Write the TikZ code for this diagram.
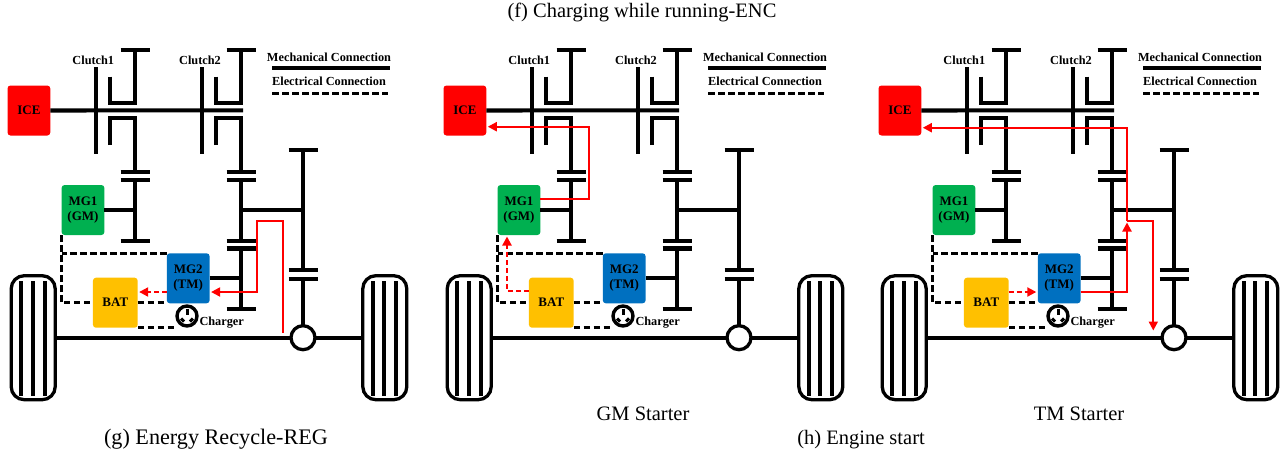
\documentclass[tikz,border=0pt]{standalone}
\usepackage{fontspec}
\setmainfont{Liberation Serif}
\usetikzlibrary{arrows.meta}

\tikzset{
    shaft/.style={line width=4.1pt},
    elec/.style={line width=3.1pt,dash pattern=on 6.5pt off 3.5pt},
    redline/.style={red,line width=2pt,-{Triangle[length=9pt,width=9pt]},shorten >=1.5pt},
    reddash/.style={redline,dash pattern=on 5pt off 3pt},
    unit/.style={rounded corners=3pt,minimum width=42.8pt,minimum height=50pt,inner sep=0pt,outer sep=0pt,
        align=center,font=\fontsize{13}{14.6}\selectfont\bfseries},
    tag/.style={inner sep=0pt,font=\fontsize{12.3}{14.6}\selectfont\bfseries},
    caption/.style={inner sep=0pt,anchor=base,font=\fontsize{20.5}{24}\selectfont},
    wheel/.style={draw,line width=3.3pt,rounded corners=13pt,minimum width=44pt,minimum height=124pt,outer sep=0pt},
}

\begin{document}
\begin{tikzpicture}[x=1pt,y=-1pt]
    \useasboundingbox (0,0) rectangle (1284,453);

    \foreach \p/\dx in {a/0,b/436,c/871}{
    \begin{scope}[xshift=\dx pt]
        \node[unit,fill={rgb,255:red,255;green,0;blue,0}] (\p ICE) at (28.9,110.5) {ICE};
        \node[unit,fill={rgb,255:red,0;green,176;blue,80}] (\p MG1) at (83,210) {MG1\\(GM)};
        \node[unit,fill={rgb,255:red,0;green,112;blue,192}] (\p MG2) at (188.2,278.3) {MG2\\(TM)};
        \node[unit,fill={rgb,255:red,255;green,192;blue,0},minimum width=44.7pt] (\p BAT) at (115.3,302.7) {BAT};
        \node[wheel] (\p WL) at (33.2,337.7) {};
        \node[wheel] (\p WR) at (384.8,337.7) {};
        \node[circle,draw,line width=3.3pt,fill=white,minimum size=24pt,inner sep=0pt,outer sep=0pt] (\p Diff) at (303,337.7) {};
        \node[circle,draw,line width=3.4pt,minimum size=20pt,inner sep=0pt,outer sep=0pt] (\p Plug) at (187,316) {};
        \node[tag] (\p Charger) at (221.7,322.7) {Charger};
        \node[tag] (\p Clutch1) at (93.3,60.7) {Clutch1};
        \node[tag] (\p Clutch2) at (200,60.7) {Clutch2};
        \node[tag] (\p Mech) at (329,57.3) {Mechanical Connection};
        \node[tag] (\p Elec) at (329,81) {Electrical Connection};

        % legend
        \draw[shaft] (272.3,68.3) -- (390,68.3);
        \draw[elec] (272.3,93.3) -- (388,93.3);

        % wheels
        \foreach \bx in {21.3,33,44.7,373,384.3,396}
            \draw[shaft] (\bx,281) -- (\bx,396);
        \draw[shaft] (\p WL) -- (\p Diff);
        \draw[shaft] (\p Diff) -- (\p WR);

        % main shaft and clutches
        \coordinate (\p End) at (243,110.3);
        \draw[shaft] (\p ICE) -- (\p End);
        \foreach \gx in {135,241}{
            \draw[shaft] ({\gx-39},67.3) -- ({\gx-39},154);
            \draw[shaft] ({\gx-24.7},76.7) -- ({\gx-24.7},103.3) -- (\gx,103.3) -- (\gx,50);
            \draw[shaft] ({\gx-24.7},145) -- ({\gx-24.7},117.7) -- (\gx,117.7) -- (\gx,171.7);
            \draw[shaft] ({\gx-14.5},50) -- ({\gx+14.5},50);
            \draw[shaft] ({\gx-14.5},171.7) -- ({\gx+14.5},171.7);
            \draw[shaft] ({\gx-14.5},179.7) -- ({\gx+14.5},179.7);
        }

        % gear shafts
        \draw[shaft] (135,179.7) -- (135,241);
        \draw[shaft] (120.5,241) -- (149.5,241);
        \draw[shaft] (\p MG1.east) -- (135,210);
        \draw[shaft] (241,179.7) -- (241,240.7);
        \draw[shaft] (226.5,240.7) -- (255.5,240.7);
        \draw[shaft] (226.5,248.5) -- (255.5,248.5);
        \draw[shaft] (241,248.5) -- (241,308.7);
        \draw[shaft] (226.5,308.7) -- (255.5,308.7);
        \draw[shaft] (\p MG2.east) -- (241,278.3);
        \draw[shaft] (241,210) -- (303,210);
        \draw[shaft] (303,150) -- (303,270);
        \draw[shaft] (288.5,150) -- (317.5,150);
        \draw[shaft] (288.5,270) -- (317.5,270);
        \draw[shaft] (288.5,278.7) -- (317.5,278.7);
        \draw[shaft] (303,278.7) -- (\p Diff);

        % electrical
        \draw[elec] (\p MG1.south west) |- (\p BAT.west);
        \draw[elec] (\p MG2.north west) -- (\p MG1.south west |- \p MG2.north west);
        \draw[elec] (\p BAT.east) -- (\p BAT.east -| \p MG2.west);
        \draw[elec] (\p BAT.south east) -- (\p BAT.south east -| \p Plug.west);

        % plug
        \draw[line width=3pt] (187,309) -- (187,314.5);
        \draw[line width=3pt] (181,318.5) -- (184,321.5);
        \draw[line width=3pt] (193,318.5) -- (190,321.5);
    \end{scope}
    }

    % g
    \coordinate (aR1) at (283.3,332.7);
    \coordinate (aR2) at (283.3,221);
    \coordinate (aR3) at (256.7,221);
    \coordinate (aR4) at (256.7,292);
    \draw[redline] (aR1) -- (aR2) -- (aR3) -- (aR4) -- (aMG2.east |- aR4);
    \draw[reddash] (aMG2.west |- aR4) -- (aBAT.east |- aR4);

    % gm starter
    \coordinate (bR1) at (589,198.7);
    \coordinate (bR2) at (589,126.7);
    \coordinate (bR3) at (507,290.7);
    \draw[redline] (bMG1.east |- bR1) -- (bR1) -- (bR2) -- (bICE.east |- bR2);
    \draw[reddash] (bBAT.west |- bR3) -- (bR3) -- (bR3 |- bMG1.south);

    % tm starter
    \coordinate (cR1) at (1127,292);
    \coordinate (cR2) at (1127,221);
    \coordinate (cR3) at (1127,127.7);
    \coordinate (cR4) at (1153.3,221);
    \coordinate (cR5) at (1153.3,332);
    \draw[redline] (cMG2.east |- cR1) -- (cR1) -- (cR2);
    \draw[redline] (cR2) -- (cR3) -- (cICE.east |- cR3);
    \draw[redline] (cR2) -- (cR4) -- (cR5);
    \draw[reddash] (cBAT.east |- cR1) -- (cMG2.west |- cR1);

    % captions
    \node[caption] (capF) at (642,17) {(f) Charging while running-ENC};
    \node[caption,font=\fontsize{22.2}{26}\selectfont] (capG) at (216,444) {(g) Energy Recycle-REG};
    \node[caption] (capH) at (861,444) {(h) Engine start};
    \node[caption] (capGM) at (643,420) {GM Starter};
    \node[caption] (capTM) at (1079,420) {TM Starter};
\end{tikzpicture}
\end{document}
